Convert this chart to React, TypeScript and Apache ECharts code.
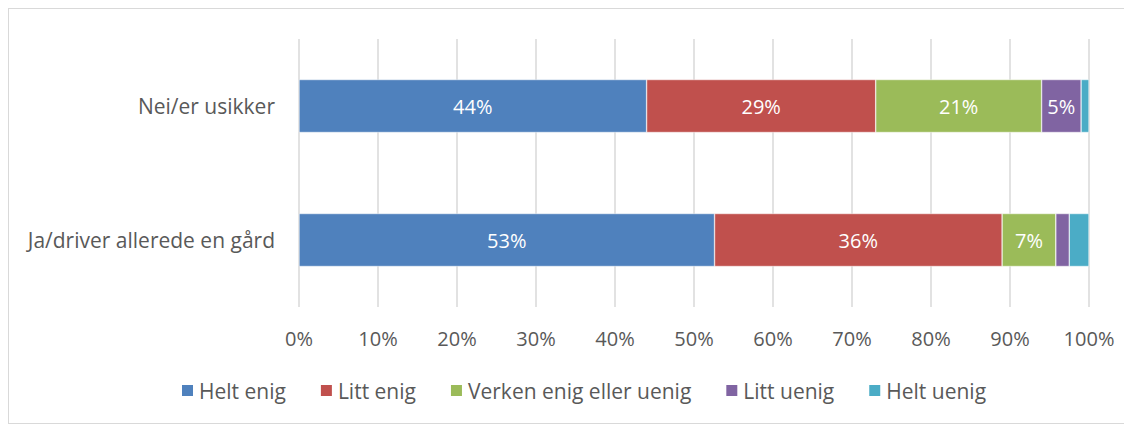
import React, { useEffect, useRef } from "react";
import * as echarts from "echarts";

const categories = ["Ja/driver allerede en gård", "Nei/er usikker"];
const seriesNames = ["Helt enig", "Litt enig", "Verken enig eller uenig", "Litt uenig", "Helt uenig"];
const heltEnig = [52.6, 44];
const littEnig = [36.4, 29];
const verken = [6.8, 21];
const littUenig = [1.7, 5];
const heltUenig = [2.5, 1];
const colors = ["#4f81bd", "#c0504d", "#9bbb59", "#8064a2", "#4bacc6"];
const xTicks = [0, 10, 20, 30, 40, 50, 60, 70, 80, 90, 100];

const FONT = "'Open Sans', sans-serif";
const FS = 21;

export default function App() {
  const ref = useRef<HTMLDivElement>(null);
  useEffect(() => {
    if (!ref.current) return;
    const chart = echarts.init(ref.current, undefined, { renderer: "svg" });
    const data = [heltEnig, littEnig, verken, littUenig, heltUenig];
    chart.setOption({
      animation: false,
      textStyle: { fontFamily: FONT },
      grid: { left: 290, right: 42, top: 30, height: 268, containLabel: false },
      xAxis: {
        type: "value",
        min: xTicks[0],
        max: xTicks[xTicks.length - 1],
        interval: 10,
        axisLabel: { formatter: "{value}%", color: "#595959", fontSize: FS - 1, fontFamily: FONT, margin: 21 },
        splitLine: { show: true, lineStyle: { color: "#d9d9d9", width: 1.5 } },
        axisLine: { show: false },
        axisTick: { show: false },
      },
      yAxis: {
        type: "category",
        data: categories,
        axisLabel: { color: "#595959", fontSize: FS, fontFamily: FONT, margin: 24 },
        axisLine: { show: false },
        axisTick: { show: false },
        splitLine: { show: false },
      },
      legend: {
        left: 166,
        top: 366,
        itemWidth: 13,
        itemHeight: 13,
        itemGap: 33,
        icon: "rect",
        textStyle: { color: "#595959", fontSize: FS, fontFamily: FONT },
        data: seriesNames,
      },
      series: seriesNames.map((name, i) => ({
        name,
        type: "bar",
        stack: "total",
        barWidth: 53,
        data: data[i],
        itemStyle: { color: colors[i], borderColor: "#ffffff", borderWidth: 0.5 },
        label: {
          show: true,
          position: "inside",
          color: "#ffffff",
          fontSize: FS - 1,
          fontFamily: FONT,
          formatter: (p: any) => (p.value >= 4 ? Math.round(p.value) + "%" : ""),
        },
      })),
    });
    return () => chart.dispose();
  }, []);
  return (
    <div
      style={{ width: 1124, height: 416, border: "1px solid #d9d9d9", boxSizing: "border-box" }}
    >
      <div ref={ref} style={{ width: 1122, height: 414 }} />
    </div>
  );
}
